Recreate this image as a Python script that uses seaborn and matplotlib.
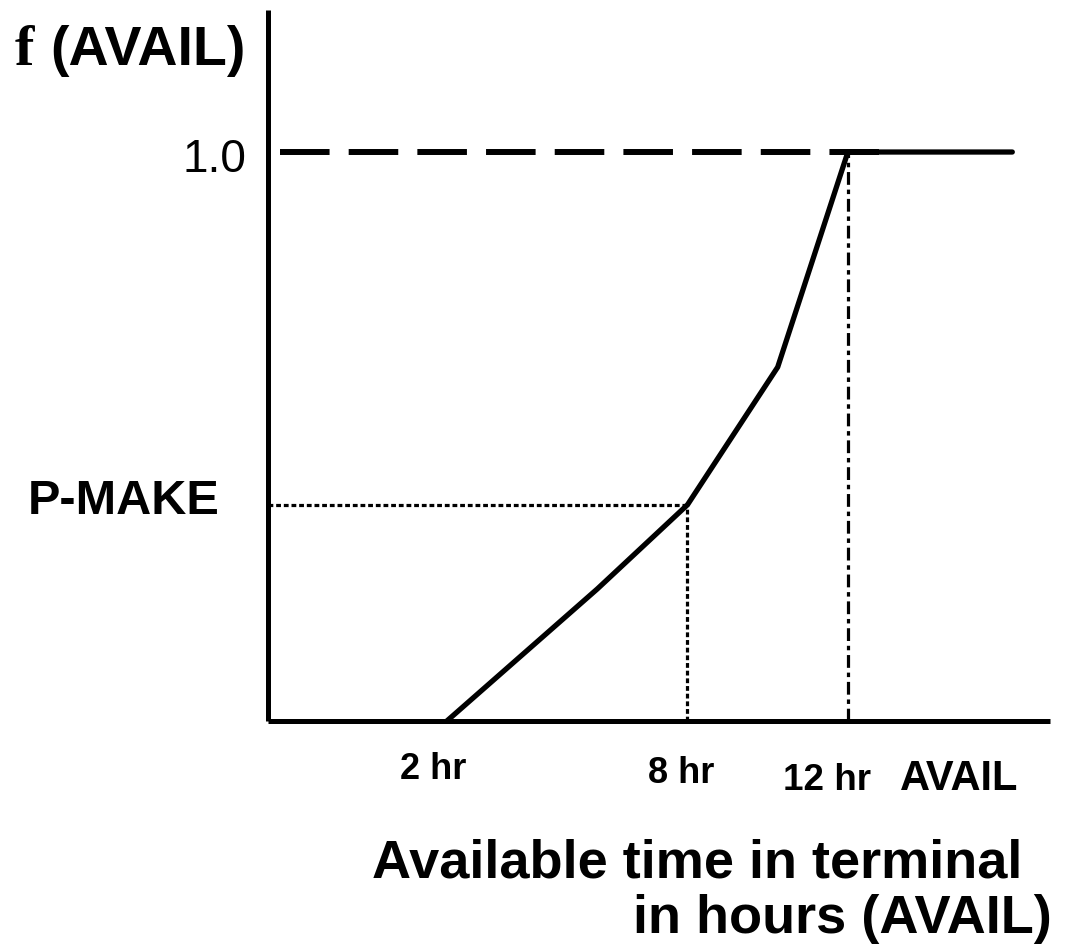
import matplotlib
matplotlib.use("Agg")
import matplotlib.pyplot as plt
import seaborn as sns

# curve of f(AVAIL) against available hours
curve_hours = [2, 5.75, 8, 10.25, 12, 16.1]
curve_f = [0, 0.232, 0.38, 0.622, 1.0, 1.0]
p_make = 0.38
p_make_hours = 8
full_hours = 12
tick_labels = ["2 hr", "8 hr", "12 hr"]

sns.set_style("white")
plt.rcParams['font.family'] = ['Liberation Sans', 'DejaVu Sans']
plt.rcParams['text.color'] = 'black'

W, H = 1071, 951
fig = plt.figure(figsize=(W / 100, H / 100), dpi=100)
ax = fig.add_axes([268 / W, (H - 721) / H, (1050 - 268) / W, (721 - 10) / H])

ax.set_xlim(-2.46, 17.04)
ax.set_ylim(0, 1.2496)
for side in ["top", "right"]:
    ax.spines[side].set_visible(False)
for side in ["left", "bottom"]:
    ax.spines[side].set_linewidth(3.6)
    ax.spines[side].set_color("black")
    ax.spines[side].set_capstyle("butt")
ax.set_xticks([])
ax.set_yticks([])

# dashed 1.0 reference
ax.plot([-2.16, 12.77], [1.0, 1.0], color="black", lw=4.3,
        dashes=(8.3, 3.2), solid_capstyle="butt", dash_capstyle="butt")
# P-MAKE dotted lines
ax.plot([-2.46, p_make_hours], [p_make, p_make], color="black", lw=2.3,
        dashes=(1.5, 0.9), dash_capstyle="butt")
ax.plot([p_make_hours, p_make_hours], [0, p_make], color="black", lw=2.3,
        dashes=(1.5, 0.9), dash_capstyle="butt")
# 12 hr dash-dot
ax.plot([full_hours, full_hours], [0, 1.0], color="black", lw=2.3,
        dashes=(4, 1.5, 1.4, 1.5), dash_capstyle="butt")

sns.lineplot(x=curve_hours, y=curve_f, sort=False, color="black", lw=3.8,
             ax=ax, estimator=None)


def ftext(x, y, s, **kw):
    fig.text(x / W, 1 - y / H, s, va="baseline", color="black", **kw)


ftext(15, 65, "f", fontsize=42, fontweight="bold", family=["Liberation Serif", "DejaVu Serif"])
ftext(50, 65, "(AVAIL)", fontsize=40, fontweight="bold")
ftext(246, 172, "1.0", fontsize=33, ha="right")
ftext(28, 514, "P-MAKE", fontsize=35, fontweight="bold")

ftext(400, 779, tick_labels[0], fontsize=26, fontweight="bold")
ftext(648, 783, tick_labels[1], fontsize=26, fontweight="bold")
ftext(783, 790, tick_labels[2], fontsize=26.5, fontweight="bold")
ftext(900, 790, "AVAIL", fontsize=30, fontweight="bold")

ftext(1022, 877, "Available time in terminal", fontsize=39, fontweight="bold", ha="right")
ftext(1052, 933, "in hours (AVAIL)", fontsize=39, fontweight="bold", ha="right")

fig.savefig("out.png", dpi=100)
